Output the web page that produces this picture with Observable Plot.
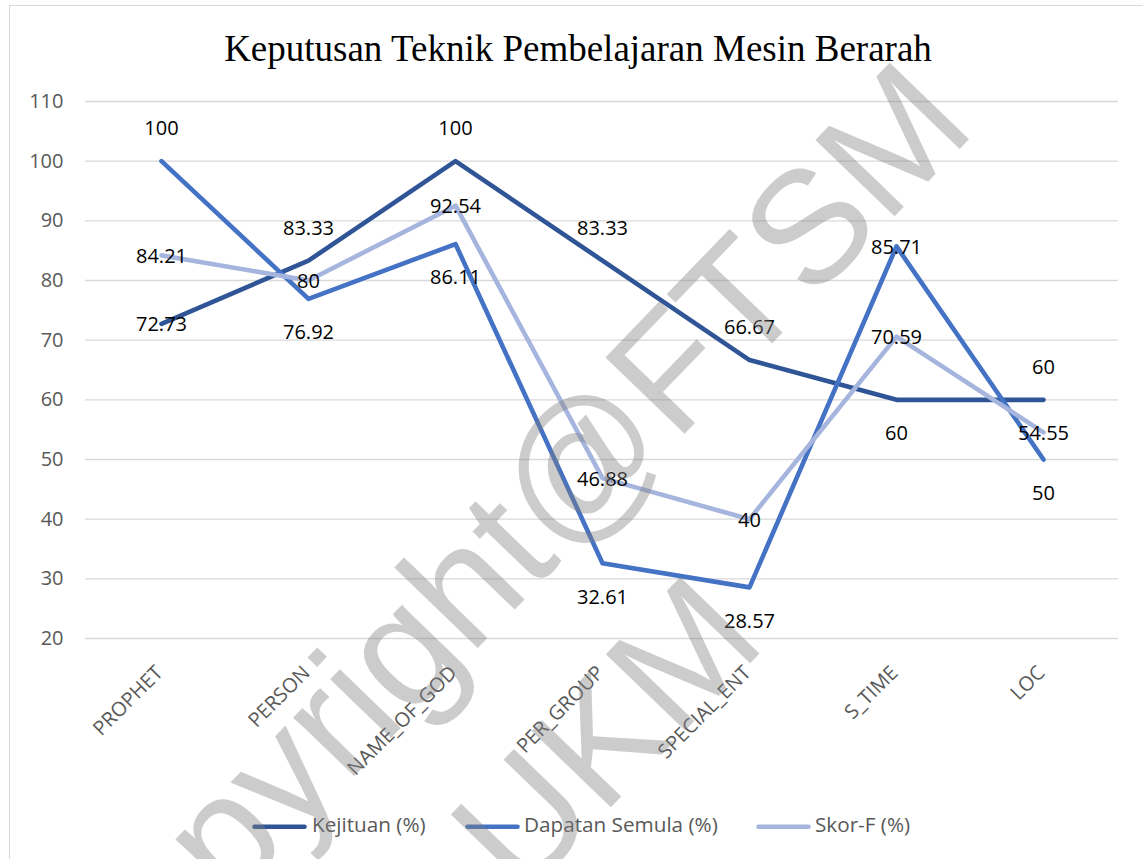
<!DOCTYPE html>
<html>
<head>
<meta charset="utf-8">
<script src="https://cdn.jsdelivr.net/npm/d3@7"></script>
<script src="https://cdn.jsdelivr.net/npm/@observablehq/plot@0.6"></script>
<style>
  html, body { margin: 0; padding: 0; background: #fff; }
  #wrap { position: relative; width: 1143px; height: 859px; overflow: hidden; background: #fff; }
  #frame { position: absolute; left: 9px; top: 5px; width: 1150px; height: 870px; border: 1px solid #d9d9d9; box-sizing: border-box; }
  #title { position: absolute; left: 0; top: 30px; width: 1156px; text-align: center; font-family: "Liberation Serif", "Times New Roman", serif; font-size: 37px; line-height: 1; color: #000; white-space: nowrap; }
  #legend { position: absolute; left: 0; top: 0; width: 1143px; height: 859px; font-family: "Open Sans", sans-serif; font-size: 20.7px; line-height: 1; color: #595959; pointer-events: none; }
  .lt { position: absolute; top: 814px; white-space: nowrap; }
  .sw { position: absolute; top: 816px; }
  #plot { position: absolute; left: 0; top: 0; }
  #wm { position: absolute; left: 0; top: 0; pointer-events: none; }
</style>
</head>
<body>
<div id="wrap">
  <div id="frame"></div>
  <div id="plot"></div>
  <div id="title"></div>
  <div id="legend"></div>
  <svg id="wm" width="1143" height="859"></svg>
</div>
<script>
const titleText = "Keputusan Teknik Pembelajaran Mesin Berarah";
const categories = ["PROPHET", "PERSON", "NAME_OF_GOD", "PER_GROUP", "SPECIAL_ENT", "S_TIME", "LOC"];
const seriesNames = ["Kejituan (%)", "Dapatan Semula (%)", "Skor-F (%)"];
const kejituan = [72.73, 83.33, 100, 83.33, 66.67, 60, 60];
const dapatanSemula = [100, 76.92, 86.11, 32.61, 28.57, 85.71, 50];
const skorF = [84.21, 80, 92.54, 46.88, 40, 70.59, 54.55];
const yTicks = [20, 30, 40, 50, 60, 70, 80, 90, 100, 110];
const seriesColors = ["#2F5597", "#4472C4", "#A6B5DD"];
// data label placement per point: a = above, b = below, c = centered
const labelPlacement = [
  ["c", "a", "a", "a", "a", "b", "a"],
  ["a", "b", "b", "b", "b", "c", "b"],
  ["c", "c", "c", "c", "c", "c", "c"]
];
const legendSwatchLeft = [252, 465, 756];
const legendTextLeft = [312, 524, 815];
const watermarkText = ["Copyright@FTSM", "UKM"];

const seriesValues = [kejituan, dapatanSemula, skorF];
const rows = [];
seriesValues.forEach((vals, si) => {
  vals.forEach((v, ci) => {
    rows.push({series: seriesNames[si], category: categories[ci], value: v, place: labelPlacement[si][ci]});
  });
});

const labelFont = "'Open Sans', sans-serif";

const chart = Plot.plot({
  width: 1143,
  height: 859,
  marginTop: 101,
  marginBottom: 221,
  marginLeft: 85,
  marginRight: 25,
  style: {fontFamily: labelFont, fontSize: "20px", background: "transparent", overflow: "visible"},
  x: {type: "point", domain: categories, padding: 0.5, label: null},
  y: {domain: [20, 110], label: null},
  color: {domain: seriesNames, range: seriesColors},
  marks: [
    Plot.gridY(yTicks, {stroke: "#d9d9d9", strokeOpacity: 1, strokeWidth: 1.4}),
    Plot.axisY({ticks: yTicks, tickSize: 0, tickPadding: 22, fill: "#595959", fontSize: 20, label: null}),
    Plot.axisX({tickSize: 0, tickRotate: -45, tickPadding: 31, dx: -2, fill: "#595959", fontSize: 20, label: null}),
    Plot.line(rows, {x: "category", y: "value", z: "series", stroke: "series", strokeWidth: 4.6, strokeLinecap: "round", strokeLinejoin: "round"}),
    Plot.text(rows.filter(d => d.place === "a"), {x: "category", y: "value", text: d => String(d.value), dy: -32.5, fill: "#000", fontSize: 20}),
    Plot.text(rows.filter(d => d.place === "b"), {x: "category", y: "value", text: d => String(d.value), dy: 34, fill: "#000", fontSize: 20}),
    Plot.text(rows.filter(d => d.place === "c"), {x: "category", y: "value", text: d => String(d.value), dy: 1, fill: "#000", fontSize: 20})
  ]
});
document.getElementById("plot").appendChild(chart);
document.getElementById("title").textContent = titleText;

const legend = d3.select("#legend");
seriesNames.forEach((name, i) => {
  const sw = legend.append("svg").attr("class", "sw").attr("width", 60).attr("height", 20)
    .style("left", legendSwatchLeft[i] + "px");
  sw.append("line").attr("x1", 2.5).attr("x2", 52.5).attr("y1", 10.7).attr("y2", 10.7)
    .attr("stroke", seriesColors[i]).attr("stroke-width", 4.6).attr("stroke-linecap", "round");
  legend.append("span").attr("class", "lt").style("left", legendTextLeft[i] + "px").text(name);
});

const wm = d3.select("#wm");
wm.append("text").attr("transform", "translate(978,130) rotate(-46)").attr("text-anchor", "end")
  .attr("font-family", "'Liberation Sans', Arial, sans-serif").attr("font-size", 160)
  .attr("fill", "#808080").attr("fill-opacity", 0.4).text(watermarkText[0]);
wm.append("text").attr("transform", "translate(645,772) rotate(-46)").attr("text-anchor", "middle")
  .attr("font-family", "'Liberation Sans', Arial, sans-serif").attr("font-size", 160)
  .attr("fill", "#808080").attr("fill-opacity", 0.4).text(watermarkText[1]);
</script>
</body>
</html>
